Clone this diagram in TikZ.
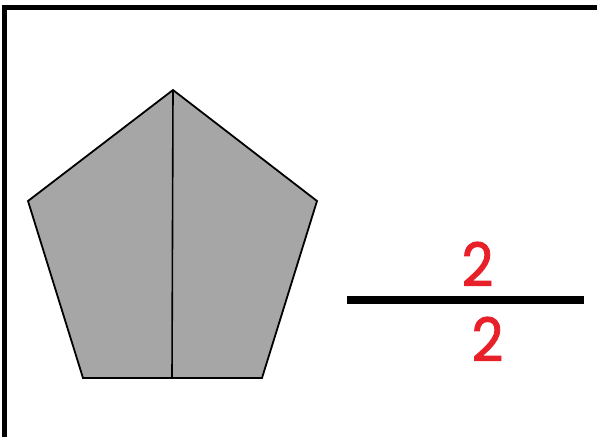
\documentclass[tikz,border=0pt]{standalone}
\usepackage{fontspec}
\setmainfont{Poppins}
\newfontfamily\numfont[FakeBold=1.6]{Poppins}
\definecolor{numred}{HTML}{E8202A}
\definecolor{pentgray}{HTML}{A6A6A6}
\begin{document}
\begin{tikzpicture}[x=1pt,y=-1pt,
  frame/.style={line width=5pt},
  pent/.style={draw=black,fill=pentgray,line width=1.8pt,line join=miter},
  divline/.style={draw=black,line width=1.6pt},
  bar/.style={line width=8pt},
  num/.style={text=numred,font=\numfont\fontsize{60}{60}\selectfont,inner sep=0pt,xscale=0.92}]
\useasboundingbox (0,0) rectangle (597,437);
\fill[white] (0,0) rectangle (597,437);
\coordinate (fa) at (4.5,437);
\coordinate (fb) at (4.5,7.5);
\coordinate (fc) at (597,7.5);
\draw[frame] (fa) -- (fb) -- (fc);
\coordinate (p1) at (173,90);
\coordinate (p2) at (317,201);
\coordinate (p3) at (262,378);
\coordinate (p4) at (83,378);
\coordinate (p5) at (28,201);
\coordinate (pb) at (172,378);
\draw[pent] (p1) -- (p2) -- (p3) -- (p4) -- (p5) -- cycle;
\draw[divline] (p1) -- (pb);
\coordinate (b1) at (347,300);
\coordinate (b2) at (584,300);
\draw[bar] (b1) -- (b2);
\node[num] (n1) at (477.5,264) {2};
\node[num] (n2) at (487.5,339) {2};
\end{tikzpicture}
\end{document}
